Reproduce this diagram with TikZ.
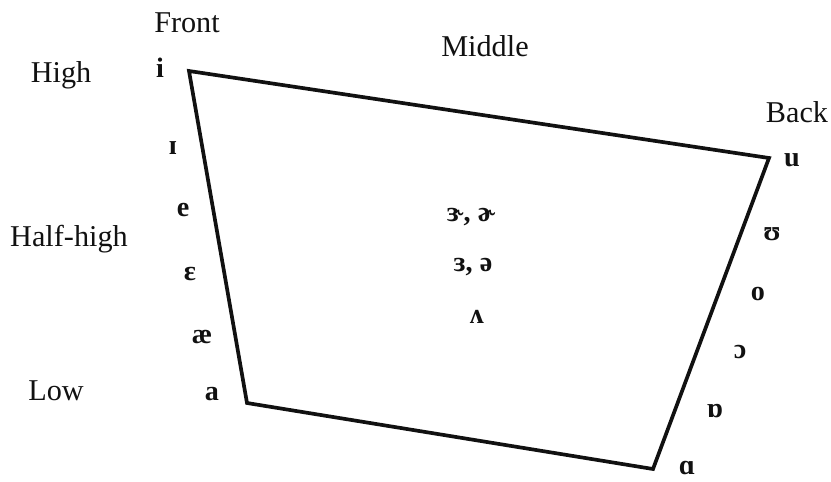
\documentclass[tikz,border=0pt]{standalone}
\usepackage{fontspec}
\setmainfont{Liberation Serif}
\newfontfamily\ipafont{Liberation Serif}
\usepackage{tikz}
\definecolor{ink}{HTML}{111111}
\tikzset{sc/.style={x=.2mm,y=.2mm,line width=2.1pt,ink},
  lbl/.style={anchor=base,font=\fontsize{17.2}{19}\selectfont},
  ipa/.style={anchor=base,inner sep=1pt,font=\ipafont\bfseries\fontsize{16}{18}\selectfont}}

\begin{document}
\begin{tikzpicture}[sc]
  \useasboundingbox (0,0) rectangle (831,481);
  \coordinate (hf) at (189,410);\coordinate (hb) at (769,323);
  \coordinate (lb) at (653,12);\coordinate (lf) at (247,78);
  \draw[line join=miter] (hf)--(hb)--(lb)--(lf)--cycle;
  \node[lbl] (front) at (187,448){Front};
  \node[lbl] (middle) at (485,424){Middle};
  \node[lbl] (back) at (797,358){Back};
  \node[lbl] (high) at (61,398){High};
  \node[lbl] (halfhigh) at (69,234){Half-high};
  \node[lbl] (low) at (56,81){Low};
  \foreach \s/\x/\y [count=\k] in {i/160/403,ɪ/173/326,e/183/264,ɛ/190/201,æ/202/138,a/212/81}
    {\node[ipa] (fr\k) at (\x,\y){\s};}
  \foreach \s/\x/\y [count=\k] in {u/792/314,ʊ/772/241,o/758/181,ɔ/740/123,ɒ/715/64,ɑ/687/7}
    {\node[ipa] (bk\k) at (\x,\y){\s};}
  \node[ipa] (mid1) at (471,259){ɝ, ɚ};
  \node[ipa] (mid2) at (473,209){ɜ, ə};
  \node[ipa] (mid3) at (477,158){ʌ};
\end{tikzpicture}
\end{document}
